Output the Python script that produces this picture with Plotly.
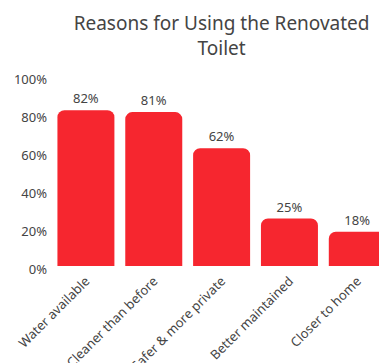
import plotly.graph_objects as go

categories = ["Water available", "Cleaner than before", "Safer & more private",
              "Better maintained", "Closer to home"]
percent_values = [82, 81, 62, 25, 18]
y_ticks = [0, 20, 40, 60, 80, 100]
y_tick_labels = ["0%", "20%", "40%", "60%", "80%", "100%"]

BAR_RED = "#F6262F"
TEXT = "#444444"
FONT = "Noto Sans"

W, H = 379, 363
ML, MT, MB = 52, 76, 97
x_range = [-0.5, 4.32]

fig = go.Figure(
    go.Bar(
        x=list(range(len(categories))),
        y=percent_values,
        marker=dict(color=BAR_RED, cornerradius=7, line=dict(width=0)),
        text=[f"{v}%" for v in percent_values],
        textposition="outside",
        textfont=dict(size=13, color=TEXT, family=FONT),
        cliponaxis=True,
        hoverinfo="skip",
    )
)

# title centred over the full five-bar plot area
plot_w = W - ML
full_center_px = ML + (4.5 - x_range[0]) / (x_range[1] - x_range[0]) * plot_w / 2

fig.update_layout(
    width=W,
    height=H,
    margin=dict(l=ML, r=0, t=MT, b=MB, autoexpand=False),
    paper_bgcolor="white",
    plot_bgcolor="white",
    bargap=0.16,
    showlegend=False,
    font=dict(family=FONT, color=TEXT, size=13),
    title=dict(
        text="Reasons for Using the Renovated<br>Toilet",
        x=full_center_px / W,
        xref="container",
        xanchor="center",
        y=1 - 30 / H,
        yref="container",
        yanchor="top",
        font=dict(size=19, color=TEXT, family=FONT),
    ),
    xaxis=dict(
        range=x_range,
        tickmode="array",
        tickvals=list(range(len(categories))),
        ticktext=categories,
        tickangle=-45,
        tickfont=dict(size=13, color=TEXT),
        showgrid=False,
        zeroline=False,
        showline=False,
        ticks="",
        ticklabelstandoff=4,
        automargin=False,
        fixedrange=True,
    ),
    yaxis=dict(
        range=[0, 100],
        tickmode="array",
        tickvals=y_ticks,
        ticktext=y_tick_labels,
        tickfont=dict(size=13, color=TEXT),
        showgrid=False,
        zeroline=False,
        showline=False,
        ticks="",
        ticklabelstandoff=4,
        ticklabelshift=3,
        automargin=False,
        fixedrange=True,
    ),
)

fig.write_html("out.html", config={"displayModeBar": False})
